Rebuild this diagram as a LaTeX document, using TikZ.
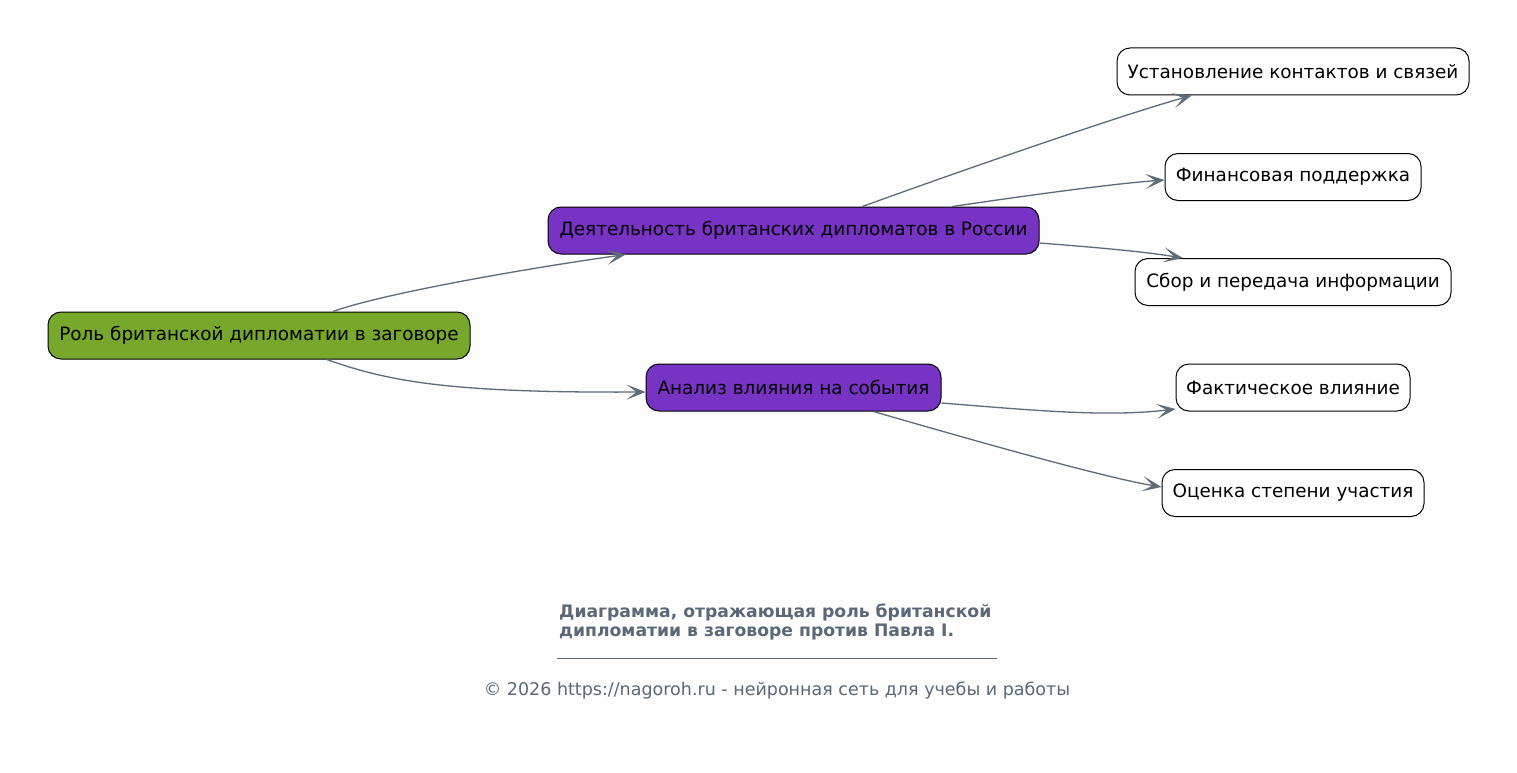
\documentclass[tikz,border=0pt]{standalone}
\usepackage{fontspec}
\setmainfont{DejaVu Sans}
\usetikzlibrary{arrows.meta,calc}
\definecolor{bgc}{HTML}{FDFDFD}
\definecolor{rootc}{HTML}{77A82B}
\definecolor{midc}{HTML}{7733C4}
\definecolor{edgec}{HTML}{5F6B78}
\definecolor{capc}{HTML}{5C6878}
\tikzset{
  box/.style={draw=black, line width=1pt, rounded corners=13pt, inner sep=2pt,
    font=\fontsize{18.4}{22}\selectfont, text=black, minimum height=47pt},
  rootbox/.style={box, fill=rootc},
  midbox/.style={box, fill=midc},
  leafbox/.style={box, fill=white},
  conn/.style={draw=edgec, line width=1.3pt,
    -{Stealth[length=19pt,width=15pt,inset=10pt]}},
}
\begin{document}
\begin{tikzpicture}[x=1pt,y=-1pt]
\fill[bgc] (0,0) rectangle (1517,773);
\useasboundingbox (0,0) rectangle (1517,773);

\node[rootbox, minimum width=422pt] (root) at (259,335.5) {Роль британской дипломатии в заговоре};
\node[midbox, minimum width=491pt] (d1) at (793.5,230.5) {Деятельность британских дипломатов в России};
\node[midbox, minimum width=295pt] (d2) at (793.5,387.5) {Анализ влияния на события};
\node[leafbox, minimum width=352pt] (l1) at (1293,71.5) {Установление контактов и связей};
\node[leafbox, minimum width=256pt] (l2) at (1293,177) {Финансовая поддержка};
\node[leafbox, minimum width=316pt] (l3) at (1293,282) {Сбор и передача информации};
\node[leafbox, minimum width=234pt] (l4) at (1293,387.5) {Фактическое влияние};
\node[leafbox, minimum width=262pt] (l5) at (1293,493) {Оценка степени участия};

\draw[conn] ($(root.north west)!0.675!(root.north east)$) .. controls +(50,-18) and +(-100,14) .. ($(d1.south west)!0.159!(d1.south east)$);
\draw[conn] ($(root.south west)!0.66!(root.south east)$) .. controls +(62,22) and +(-196,1) .. ([yshift=-4.5pt]d2.west);
\draw[conn] ($(d1.north west)!0.640!(d1.north east)$) .. controls +(88,-32) and +(-72,20) .. ($(l1.south west)!0.213!(l1.south east)$);
\draw[conn] ($(d1.north west)!0.823!(d1.north east)$) .. controls +(68,-10) and +(-55,4) .. ([yshift=-3pt]l2.west);
\draw[conn] ([yshift=-12.5pt]d1.east) .. controls +(51,4) and +(-43,-7) .. ($(l3.north west)!0.152!(l3.north east)$);
\draw[conn] ([yshift=-15.5pt]d2.east) .. controls +(99,8) and +(-67,8) .. ([yshift=-21.5pt]l4.west);
\draw[conn] ($(d2.south west)!0.77!(d2.south east)$) .. controls +(90,26) and +(-60,-10) .. ([yshift=6pt]l5.west);

\node[anchor=north west, align=left, text=capc, font=\bfseries\fontsize{17.2}{18.5}\selectfont, inner sep=0pt] (cap) at (559,604)
  {Диаграмма, отражающая роль британской\\дипломатии в заговоре против Павла I.};
\coordinate (ruleL) at (557,658);
\coordinate (ruleR) at (997,658);
\draw[capc, line width=0.6pt] (ruleL) -- (ruleR);
\node[text=capc, font=\fontsize{17.5}{20}\selectfont, inner sep=0pt] (copy) at (777,690.5)
  {© 2026 https://nagoroh.ru - нейронная сеть для учебы и работы};
\end{tikzpicture}
\end{document}
